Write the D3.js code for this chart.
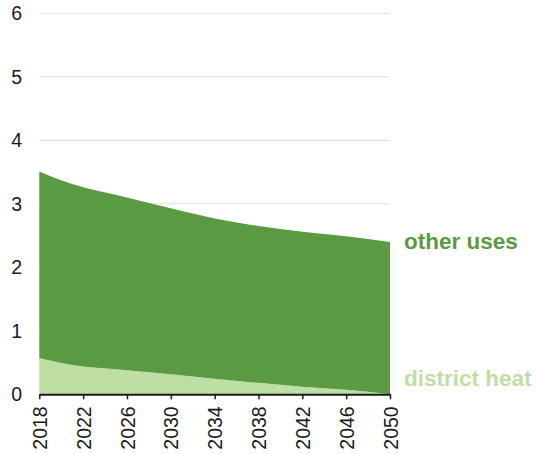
<!DOCTYPE html>
<html>
<head>
<meta charset="utf-8">
<script src="https://cdn.jsdelivr.net/npm/d3@7"></script>
<style>
  html, body { margin: 0; padding: 0; background: #fff; }
  svg { display: block; font-family: "Liberation Sans", Arial, sans-serif; }
</style>
</head>
<body>
<svg id="chart" width="537" height="454"></svg>
<script>
// Data
const years = [2018, 2021, 2026, 2030, 2034, 2038, 2042, 2046, 2050];
const districtHeat = [0.57, 0.46, 0.38, 0.315, 0.245, 0.18, 0.12, 0.07, 0.00];
const otherUses = [2.94, 2.85, 2.72, 2.615, 2.525, 2.47, 2.44, 2.42, 2.40];
const yTicks = [0, 1, 2, 3, 4, 5, 6];
const xTicks = [2018, 2022, 2026, 2030, 2034, 2038, 2042, 2046, 2050];
const seriesNames = ["district heat", "other uses"];
const seriesColors = ["#bfdea4", "#5a9a43"];

const svg = d3.select("#chart");
const margin = { top: 13.3, right: 147, bottom: 59.7, left: 39.3 };
const W = 537, H = 454;
const iw = W - margin.left - margin.right;
const ih = H - margin.top - margin.bottom;

const x = d3.scaleLinear().domain([2018, 2050]).range([margin.left, margin.left + iw]);
const y = d3.scaleLinear().domain([0, 6]).range([margin.top + ih, margin.top]);

const rows = years.map((yr, i) => ({ year: yr, "district heat": districtHeat[i], "other uses": otherUses[i] }));
const stack = d3.stack().keys(seriesNames)(rows);

// gridlines
svg.append("g").selectAll("line").data(yTicks.filter(d => d > 0)).join("line")
  .attr("x1", margin.left).attr("x2", margin.left + iw)
  .attr("y1", d => y(d)).attr("y2", d => y(d))
  .attr("stroke", "#dddddd").attr("stroke-width", 1);

// areas
const area = d3.area()
  .x(d => x(d.data.year))
  .y0(d => y(d[0]))
  .y1(d => y(d[1]))
  .curve(d3.curveMonotoneX);

svg.append("g").selectAll("path").data(stack).join("path")
  .attr("d", area)
  .attr("fill", (d, i) => seriesColors[i]);

// y labels
svg.append("g").selectAll("text").data(yTicks).join("text")
  .attr("x", 22).attr("y", d => y(d))
  .attr("dy", "0.36em")
  .attr("text-anchor", "end")
  .attr("font-size", 19.5)
  .attr("fill", "#1a1a1a")
  .text(d => d);

// x axis
const xAxis = d3.axisBottom(x).tickValues(xTicks).tickFormat(d3.format("d")).tickSize(5).tickSizeOuter(0);
const gx = svg.append("g").attr("transform", `translate(0,${margin.top + ih})`).call(xAxis);
gx.select(".domain").attr("stroke", "#1a1a1a").attr("stroke-width", 2);
gx.selectAll(".tick line").attr("stroke", "#1a1a1a").attr("stroke-width", 1.5);
gx.selectAll(".tick text")
  .attr("font-size", 19.5)
  .attr("font-family", "Liberation Sans, Arial, sans-serif")
  .attr("fill", "#1a1a1a")
  .attr("transform", "rotate(-90)")
  .attr("text-anchor", "end")
  .attr("x", -12)
  .attr("y", 0)
  .attr("dy", "0.36em");

// series labels
svg.append("text")
  .attr("x", margin.left + iw + 14)
  .attr("y", 249)
  .attr("font-size", 22.5).attr("font-weight", "bold")
  .attr("fill", seriesColors[1])
  .text(seriesNames[1]);
svg.append("text")
  .attr("x", margin.left + iw + 14)
  .attr("y", 386)
  .attr("font-size", 22.5).attr("font-weight", "bold")
  .attr("fill", seriesColors[0])
  .text(seriesNames[0]);
</script>
</body>
</html>
